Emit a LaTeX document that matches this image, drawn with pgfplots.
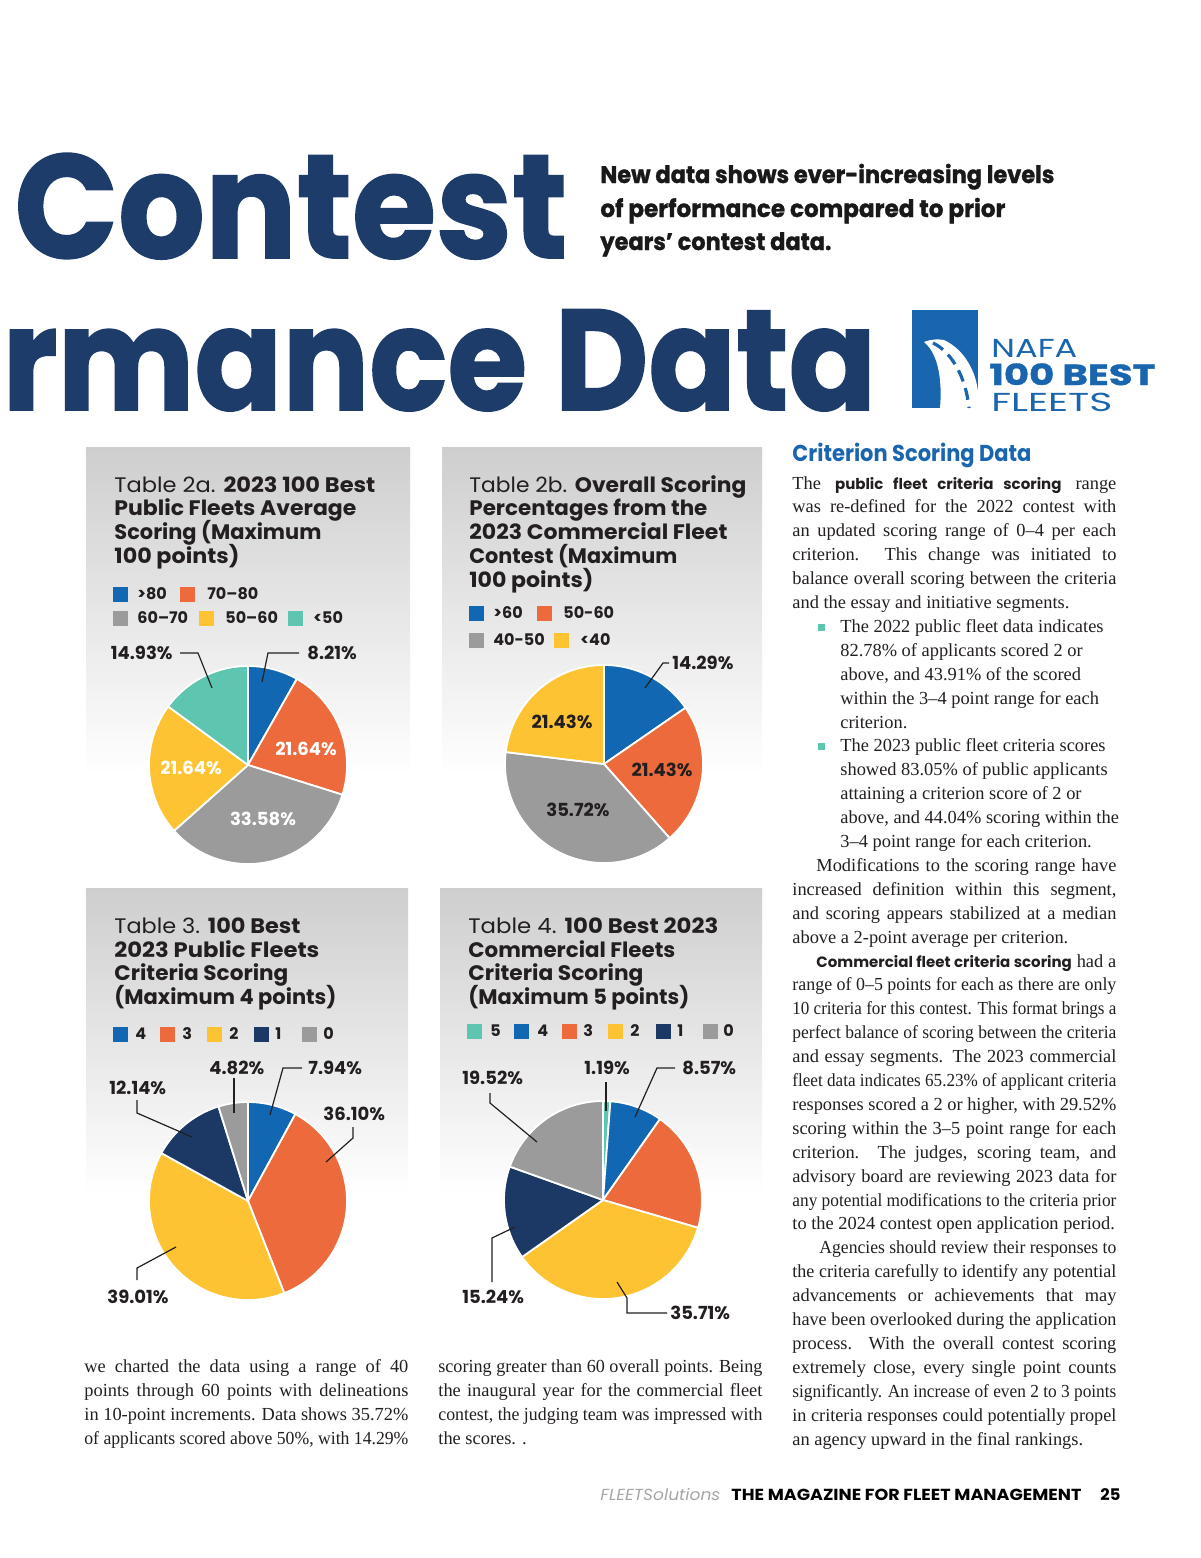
\documentclass[border=0pt]{standalone}
\usepackage{pgfplots}
\pgfplotsset{compat=1.18}
\usepackage{fontspec}
\usepackage{graphicx}
\setmainfont{Poppins}
\newfontfamily\serif{Liberation Serif}
\newfontfamily\heavy{Poppins}[BoldFeatures={FakeBold=1.2}]

\definecolor{cBlue}{HTML}{1167B1}
\definecolor{cOrange}{HTML}{EC6A3B}
\definecolor{cGray}{HTML}{9B9B9B}
\definecolor{cYellow}{HTML}{FDC333}
\definecolor{cTeal}{HTML}{5EC5B1}
\definecolor{cNavy}{HTML}{1C3966}
\definecolor{cTitle}{HTML}{1D3C6A}
\definecolor{cLogo}{HTML}{1A66AE}
\definecolor{cText}{HTML}{231F20}
\definecolor{cPanel}{RGB}{206,206,206}

% 1 px of the page = 0.5pt
\newlength\pxu \setlength\pxu{0.5pt}
\newcommand\fit[2]{\resizebox{#1\pxu}{\height}{#2}}

% pie slices: colour, value, total (clockwise from 12 o'clock)
\gdef\piepos{0}
\newcommand\slice[3]{%
  \pgfmathsetmacro\sa{90-(\piepos+#2)/#3*360}%
  \pgfmathsetmacro\sb{90-\piepos/#3*360}%
  \edef\doslice{\noexpand\addplot[fill=#1, draw=white, line width=0.9pt, line join=round, domain=\sa:\sb, samples=100] ({cos(x)},{sin(x)}) -- (axis cs:0,0) -- cycle;}%
  \doslice
  \pgfmathsetmacro\np{\piepos+#2}%
  \global\let\piepos\np}
\pgfplotsset{pie/.style={hide axis, scale only axis, width=108.9pt, height=108.9pt,
  xmin=-1.1, xmax=1.1, ymin=-1.1, ymax=1.1, anchor=center, clip=false}}

% text helpers
\newcommand\ptl[4]{\node[anchor=base west,inner sep=0pt,text=cText] at (#1,#2) {\fontsize{10.5}{12}\selectfont\fit{#3}{#4}};}
\newcommand\leg[5]{\fill[#1] (#2,{#4-7.5}) rectangle +(15,15);
  \node[anchor=west,inner sep=0pt,text=cText] at (#3,#4) {\fontsize{8}{9}\selectfont\bfseries #5};}
\newcommand\pl[4]{\node[anchor=#1,inner sep=0pt,text=#4] at (#2) {\fontsize{9}{10}\selectfont\bfseries #3};}
\newcommand\bodyf{\serif\fontsize{9.2}{11}\selectfont}
\newcommand\pb{\normalfont\bfseries\fontsize{7.5}{10}\selectfont}
\newlength\natw
\newcommand\J[4]{\node[anchor=base west,inner sep=0pt,text=cText] at (#1,#2) {\bodyf\settowidth\natw{#4}\ifdim\natw>#3\pxu\resizebox{#3\pxu}{\height}{#4}\else\makebox[#3\pxu][s]{#4}\fi};}
\newcommand\Lt[3]{\node[anchor=base west,inner sep=0pt,text=cText] at (#1,#2) {\bodyf #3};}
\newcommand\ry[1]{{489+23.9*(#1-1)}}
\newcommand\ryo[2]{{489+23.9*(#1-1)+#2}}

\begin{document}
\begin{tikzpicture}[x=0.5pt,y=-0.5pt, leader/.style={draw=cText,line width=0.6pt}]
\fill[white] (0,0) rectangle (1200,1558);
\useasboundingbox (0,0) rectangle (1200,1558);

% headline
\node[anchor=base west,inner sep=0pt,text=cTitle] at (14,258) {\heavy\bfseries\fontsize{73.8}{74}\selectfont\fit{553}{Contest}};
\node[anchor=base west,inner sep=0pt,text=cTitle] at (2,410) {\heavy\bfseries\fontsize{71.6}{72}\selectfont\fit{874}{rmance Data}};
\begin{scope}[text=black!90]
\node[anchor=base west,inner sep=0pt] at (600,183) {\heavy\bfseries\fontsize{12}{13}\selectfont\fit{454}{New data shows ever-increasing levels}};
\node[anchor=base west,inner sep=0pt] at (600,217) {\heavy\bfseries\fontsize{12}{13}\selectfont\fit{405}{of performance compared to prior}};
\node[anchor=base west,inner sep=0pt] at (600,250) {\heavy\bfseries\fontsize{12}{13}\selectfont\fit{231}{years’ contest data.}};
\end{scope}

% logo
\fill[cLogo] (912,310) rectangle (978,408);
\fill[white] (924,342) .. controls (932,339) and (938,339) .. (944,340)
  .. controls (965,350) and (976,372) .. (978,392) -- (978,408) -- (940,408)
  .. controls (942,385) and (940,355) .. (924,342) -- cycle;
\draw[cLogo,line width=1.6pt,dash pattern=on 6pt off 3.5pt] (933,343) .. controls (952,352) and (966,378) .. (969,408);
\node[anchor=base west,inner sep=0pt,text=cLogo,text depth=0pt] at (991,357) {\fontsize{13}{14}\selectfont\fit{86}{NAFA}};
\node[anchor=base west,inner sep=0pt,text=cLogo,text depth=0pt] at (989,385) {\heavy\bfseries\fontsize{14.5}{16}\selectfont\fit{166}{100 BEST}};
\node[anchor=base west,inner sep=0pt,text=cLogo,text depth=0pt] at (991,411) {\fontsize{13}{14}\selectfont\fit{121}{FLEETS}};

% panels
\shade[top color=cPanel,bottom color=white] (86,447) rectangle (410,775);
\shade[top color=cPanel,bottom color=white] (442,447) rectangle (762,775);
\shade[top color=cPanel,bottom color=white] (86,888) rectangle (408,1195);
\shade[top color=cPanel,bottom color=white] (440,888) rectangle (762,1195);

% ---------- Table 2a ----------
\ptl{114}{492}{261}{Table 2a. \textbf{2023 100 Best}}
\ptl{114}{515}{242}{\textbf{Public Fleets Average}}
\ptl{114}{539}{207}{\textbf{Scoring (Maximum}}
\ptl{114}{563}{125}{\textbf{100 points)}}
\leg{cBlue}{113}{137}{594}{>80}
\leg{cOrange}{180}{207}{594}{70–80}
\leg{cGray}{113}{137}{618}{60–70}
\leg{cYellow}{199}{225}{618}{50–60}
\leg{cTeal}{288}{313}{618}{<50}
\begin{axis}[pie, at={(124pt,-382.5pt)}]
  \gdef\piepos{0}
  \slice{cBlue}{8.21}{100}
  \slice{cOrange}{21.64}{100}
  \slice{cGray}{33.58}{100}
  \slice{cYellow}{21.64}{100}
  \slice{cTeal}{14.93}{100}
\end{axis}
\draw[leader] (299,653) -- (268,653) -- (262,682);
\draw[leader] (180,653) -- (198,653) -- (212,688);
\pl{west}{307,653}{8.21\%}{cText}
\pl{east}{173,653}{14.93\%}{cText}
\pl{center}{306,749}{21.64\%}{white}
\pl{center}{191,768}{21.64\%}{white}
\pl{center}{263,819}{33.58\%}{white}

% ---------- Table 2b ----------
\ptl{469}{492}{277}{Table 2b. \textbf{Overall Scoring}}
\ptl{469}{515}{238}{\textbf{Percentages from the}}
\ptl{469}{539}{258}{\textbf{2023 Commercial Fleet}}
\ptl{469}{563}{208}{\textbf{Contest (Maximum}}
\ptl{469}{587}{124}{\textbf{100 points)}}
\leg{cBlue}{469}{493}{613}{>60}
\leg{cOrange}{537}{563}{613}{50-60}
\leg{cGray}{469}{493}{640}{40-50}
\leg{cYellow}{554}{580}{640}{<40}
\begin{axis}[pie, at={(302pt,-382pt)}]
  \gdef\piepos{0}
  \slice{cBlue}{14.29}{92.87}
  \slice{cOrange}{21.43}{92.87}
  \slice{cGray}{35.72}{92.87}
  \slice{cYellow}{21.43}{92.87}
\end{axis}
\draw[leader] (669,663) -- (663,663) -- (645,688);
\pl{west}{672,663}{14.29\%}{cText}
\pl{center}{562,722}{21.43\%}{cText}
\pl{center}{662,770}{21.43\%}{cText}
\pl{center}{578,810}{35.72\%}{cText}

% ---------- Table 3 ----------
\ptl{114}{933}{186}{Table 3. \textbf{100 Best}}
\ptl{114}{957}{205}{\textbf{2023 Public Fleets}}
\ptl{114}{980}{174}{\textbf{Criteria Scoring}}
\ptl{114}{1004}{222}{\textbf{(Maximum 4 points)}}
\leg{cBlue}{113}{135}{1034}{4}
\leg{cOrange}{160}{182}{1034}{3}
\leg{cYellow}{207}{229}{1034}{2}
\leg{cNavy}{254}{275}{1034}{1}
\leg{cGray}{302}{323}{1034}{0}
\begin{axis}[pie, at={(124pt,-600.5pt)}]
  \gdef\piepos{0}
  \slice{cBlue}{7.94}{100.01}
  \slice{cOrange}{36.10}{100.01}
  \slice{cYellow}{39.01}{100.01}
  \slice{cNavy}{12.14}{100.01}
  \slice{cGray}{4.82}{100.01}
\end{axis}
\draw[leader] (302,1068) -- (283,1068) -- (270,1115);
\draw[leader] (353,1127) -- (353,1138) -- (326,1162);
\draw[leader] (234,1078) -- (234,1113);
\draw[leader] (137,1100) -- (137,1113) -- (192,1137);
\draw[leader] (137,1280) -- (137,1268) -- (176,1247);
\pl{west}{308,1068}{7.94\%}{cText}
\pl{west}{323,1114}{36.10\%}{cText}
\pl{west}{209,1068}{4.82\%}{cText}
\pl{west}{109,1088}{12.14\%}{cText}
\pl{west}{107,1297}{39.01\%}{cText}

% ---------- Table 4 ----------
\ptl{468}{933}{250}{Table 4. \textbf{100 Best 2023}}
\ptl{468}{957}{207}{\textbf{Commercial Fleets}}
\ptl{468}{980}{175}{\textbf{Criteria Scoring}}
\ptl{468}{1004}{221}{\textbf{(Maximum 5 points)}}
\leg{cTeal}{467}{490}{1031}{5}
\leg{cBlue}{514}{537}{1031}{4}
\leg{cOrange}{562}{583}{1031}{3}
\leg{cYellow}{608}{630}{1031}{2}
\leg{cNavy}{656}{677}{1031}{1}
\leg{cGray}{703}{723}{1031}{0}
\begin{axis}[pie, at={(301.5pt,-600pt)}]
  \gdef\piepos{0}
  \slice{cTeal}{1.19}{99.99}
  \slice{cBlue}{8.57}{99.99}
  \slice{cOrange}{19.76}{99.99}
  \slice{cYellow}{35.71}{99.99}
  \slice{cNavy}{15.24}{99.99}
  \slice{cGray}{19.52}{99.99}
\end{axis}
\draw[leader] (606,1082) -- (606,1111);
\draw[leader] (675,1068) -- (657,1068) -- (635,1117);
\draw[leader] (490,1093) -- (490,1103) -- (537,1142);
\draw[leader] (492,1282) -- (492,1238) -- (515,1227);
\draw[leader] (667,1313) -- (627,1313) -- (627,1298) -- (617,1282);
\pl{west}{584,1068}{1.19\%}{cText}
\pl{west}{682,1068}{8.57\%}{cText}
\pl{west}{462,1078}{19.52\%}{cText}
\pl{west}{462,1297}{15.24\%}{cText}
\pl{west}{670,1313}{35.71\%}{cText}

% ---------- right column ----------
\node[anchor=base west,inner sep=0pt,text=cLogo,text depth=0pt] at (792,461) {\bfseries\fontsize{11.5}{12}\selectfont\fit{239}{Criterion Scoring Data}};
\J{792}{\ry{1}}{324}{The {\pb public fleet criteria scoring} range}
\J{792}{\ry{2}}{324}{was re-defined for the 2022 contest with}
\J{792}{\ry{3}}{324}{an updated scoring range of 0–4 per each}
\J{792}{\ry{4}}{324}{criterion. This change was initiated to}
\J{792}{\ry{5}}{324}{balance overall scoring between the criteria}
\Lt{792}{\ry{6}}{and the essay and initiative segments.}
\fill[cTeal] (818,\ryo{7}{-8.5}) rectangle +(7,7);
\Lt{840}{\ry{7}}{The 2022 public fleet data indicates}
\Lt{840}{\ry{8}}{82.78\% of applicants scored 2 or}
\Lt{840}{\ry{9}}{above, and 43.91\% of the scored}
\Lt{840}{\ry{10}}{within the 3–4 point range for each}
\Lt{840}{\ry{11}}{criterion.}
\fill[cTeal] (818,\ryo{12}{-8.5}) rectangle +(7,7);
\Lt{840}{\ry{12}}{The 2023 public fleet criteria scores}
\Lt{840}{\ry{13}}{showed 83.05\% of public applicants}
\Lt{840}{\ry{14}}{attaining a criterion score of 2 or}
\Lt{840}{\ry{15}}{above, and 44.04\% scoring within the}
\Lt{840}{\ry{16}}{3–4 point range for each criterion.}
\J{816}{\ry{17}}{300}{Modifications to the scoring range have}
\J{792}{\ry{18}}{324}{increased definition within this segment,}
\J{792}{\ry{19}}{324}{and scoring appears stabilized at a median}
\Lt{792}{\ry{20}}{above a 2-point average per criterion.}
\J{816}{\ry{21}}{300}{{\pb Commercial fleet criteria scoring} had a}
\J{792}{\ry{22}}{324}{range of 0–5 points for each as there are only}
\J{792}{\ry{23}}{324}{10 criteria for this contest. This format brings a}
\J{792}{\ry{24}}{324}{perfect balance of scoring between the criteria}
\J{792}{\ry{25}}{324}{and essay segments. The 2023 commercial}
\J{792}{\ry{26}}{324}{fleet data indicates 65.23\% of applicant criteria}
\J{792}{\ry{27}}{324}{responses scored a 2 or higher, with 29.52\%}
\J{792}{\ry{28}}{324}{scoring within the 3–5 point range for each}
\J{792}{\ry{29}}{324}{criterion. The judges, scoring team, and}
\J{792}{\ry{30}}{324}{advisory board are reviewing 2023 data for}
\J{792}{\ry{31}}{324}{any potential modifications to the criteria prior}
\Lt{792}{\ry{32}}{to the 2024 contest open application period.}
\J{819}{\ry{33}}{297}{Agencies should review their responses to}
\J{792}{\ry{34}}{324}{the criteria carefully to identify any potential}
\J{792}{\ry{35}}{324}{advancements or achievements that may}
\J{792}{\ry{36}}{324}{have been overlooked during the application}
\J{792}{\ry{37}}{324}{process. With the overall contest scoring}
\J{792}{\ry{38}}{324}{extremely close, every single point counts}
\J{792}{\ry{39}}{324}{significantly. An increase of even 2 to 3 points}
\J{792}{\ry{40}}{324}{in criteria responses could potentially propel}
\Lt{792}{\ry{41}}{an agency upward in the final rankings.}

% ---------- bottom columns ----------
\J{84}{1372}{324}{we charted the data using a range of 40}
\J{84}{1396}{324}{points through 60 points with delineations}
\J{84}{1420}{324}{in 10-point increments. Data shows 35.72\%}
\J{84}{1444}{324}{of applicants scored above 50\%, with 14.29\%}
\J{438}{1372}{324}{scoring greater than 60 overall points. Being}
\J{438}{1396}{324}{the inaugural year for the commercial fleet}
\J{438}{1420}{324}{contest, the judging team was impressed with}
\Lt{438}{1444}{the scores. .}

% ---------- footer ----------
\node[anchor=base west,inner sep=0pt,text=black!35] at (600,1500) {\itshape\fontsize{8}{9}\selectfont\fit{120}{FLEETSolutions}};
\node[anchor=base west,inner sep=0pt,text=black] at (731,1500) {\bfseries\fontsize{8}{9}\selectfont\fit{350}{THE MAGAZINE FOR FLEET MANAGEMENT}};
\node[anchor=base west,inner sep=0pt,text=black] at (1100,1500) {\bfseries\fontsize{8}{9}\selectfont\fit{20}{25}};
\end{tikzpicture}
\end{document}
